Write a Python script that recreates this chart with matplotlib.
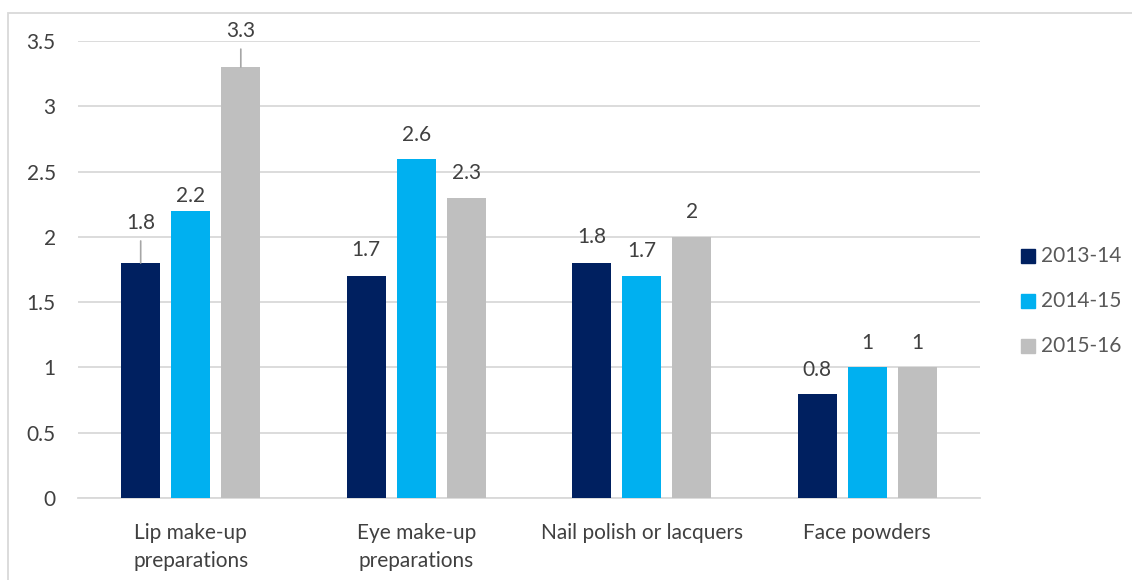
import matplotlib
matplotlib.use("Agg")
import matplotlib.pyplot as plt
from matplotlib.patches import Rectangle
import numpy as np

categories = ["Lip make-up\npreparations", "Eye make-up\npreparations",
              "Nail polish or lacquers", "Face powders"]
series_names = ["2013-14", "2014-15", "2015-16"]
values_2013_14 = [1.8, 1.7, 1.8, 0.8]
values_2014_15 = [2.2, 2.6, 1.7, 1.0]
values_2015_16 = [3.3, 2.3, 2.0, 1.0]
y_ticks = [0, 0.5, 1, 1.5, 2, 2.5, 3, 3.5]
y_tick_labels = ["0", "0.5", "1", "1.5", "2", "2.5", "3", "3.5"]

series = [values_2013_14, values_2014_15, values_2015_16]
colors = ["#002060", "#00B0F0", "#BFBFBF"]
text_color = "#404040"
grid_color = "#D9D9D9"

# label lift above bar top (pixels); some labels were pulled up with a leader line
label_lift = [[40, 26, 25.5, 24],
              [15, 24, 25.5, 24],
              [36, 24.5, 25, 24]]
leader = [[True, False, False, False],
          [False, False, False, False],
          [True, False, False, False]]

plt.rcParams["font.family"] = ["Lato", "DejaVu Sans"]
FS = 15

W, H = 1132, 580
fig = plt.figure(figsize=(W / 100, H / 100), dpi=100)
# axes box in pixel coordinates
x0, x1 = 78, 980
y_top, y_bot = 41, 498
ax = fig.add_axes([x0 / W, (H - y_bot) / H, (x1 - x0) / W, (y_bot - y_top) / H])

n = len(categories)
x = np.arange(n)
bar_w = 0.173
step = 0.222

for i, vals in enumerate(series):
    pos = x + (i - 1) * step
    ax.bar(pos, vals, width=bar_w, color=colors[i], label=series_names[i], zorder=3)
    for j, v in enumerate(vals):
        lift = label_lift[i][j]
        ax.annotate(f"{v:g}", xy=(pos[j], v), xytext=(0, lift),
                    textcoords="offset pixels", ha="center", va="center",
                    fontsize=FS, color=text_color, zorder=4)
        if leader[i][j]:
            ax.annotate("", xy=(pos[j], v), xytext=(0, lift - 18),
                        textcoords="offset pixels",
                        arrowprops=dict(arrowstyle="-", color="#A6A6A6", lw=1.2,
                                        shrinkA=0, shrinkB=0), zorder=4)

ax.set_xlim(-0.5, n - 0.5)
ax.set_ylim(0, 3.5)
ax.set_yticks(y_ticks)
ax.set_yticklabels(y_tick_labels)
ax.set_xticks(x)
ax.set_xticklabels(categories, linespacing=1.5)
ax.yaxis.grid(True, color=grid_color, linewidth=1.3, zorder=0)
ax.set_axisbelow(True)
for s in ["top", "right", "left"]:
    ax.spines[s].set_visible(False)
ax.spines["bottom"].set_color(grid_color)
ax.spines["bottom"].set_linewidth(1.3)
ax.tick_params(axis="both", length=0, labelsize=FS, labelcolor=text_color)
ax.tick_params(axis="y", pad=16)
ax.tick_params(axis="x", pad=18)
for lbl in ax.get_yticklabels():
    lbl.set_horizontalalignment("right")

# legend
for i, name in enumerate(series_names):
    cy = 256 + i * 45
    fig.patches.append(Rectangle((1021 / W, (H - cy - 7) / H), 14 / W, 14 / H,
                                 transform=fig.transFigure, color=colors[i]))
    fig.text(1041 / W, (H - cy) / H, name, fontsize=FS, color="#595959",
             va="center", ha="left")

# chart border
fig.patches.append(Rectangle((7.5 / W, -0.1), 1.2, (H - 12.5) / H + 0.1,
                             transform=fig.transFigure, fill=False,
                             edgecolor="#D9D9D9", linewidth=1.3))

fig.savefig("out.png", dpi=100, facecolor="white")
